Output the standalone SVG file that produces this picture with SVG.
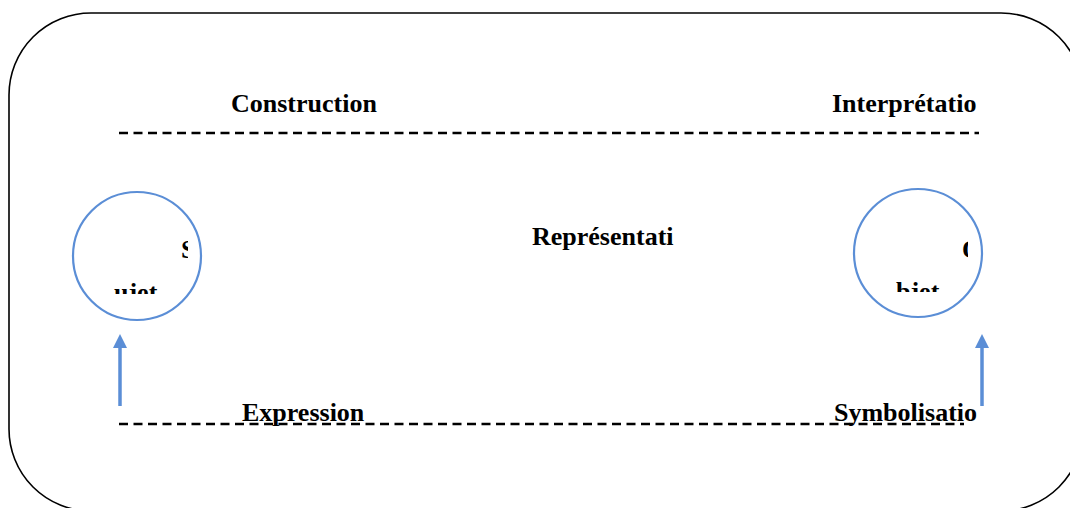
<svg xmlns="http://www.w3.org/2000/svg" width="1070" height="508" viewBox="0 0 1070 508">
<style>
.lbl{font-family:"Liberation Serif","Times New Roman",serif;font-weight:bold;font-size:26px;fill:#000}
.dash{stroke:#000;stroke-width:2.4;stroke-dasharray:9 5.5;fill:none}
.circ{fill:#fff;stroke:#5B8ED6;stroke-width:2.2}
.arr{stroke:#5B8ED6;stroke-width:3.5;fill:none}
</style>
<defs>
<clipPath id="cS"><rect x="100" y="225" width="88" height="40"/></clipPath>
<clipPath id="cU"><rect x="100" y="270" width="80" height="24"/></clipPath>
<clipPath id="cO"><rect x="880" y="225" width="88" height="40"/></clipPath>
<clipPath id="cB"><rect x="880" y="270" width="80" height="22"/></clipPath>
</defs>
<rect id="frame" x="9" y="13" width="1074" height="498" rx="82" ry="82" fill="none" stroke="#000" stroke-width="1.6"/>
<g id="connectors">
<line class="dash" x1="119" y1="133" x2="979" y2="133"/>
<line class="dash" x1="119" y1="424" x2="964" y2="424"/>
<line class="arr" x1="120" y1="406" x2="120" y2="346"/>
<polygon points="120,334 113,348 127,348" fill="#5B8ED6"/>
<line class="arr" x1="982" y1="406" x2="982" y2="346"/>
<polygon points="982,334 975,348 989,348" fill="#5B8ED6"/>
</g>
<g id="construction"><text class="lbl" x="231" y="112">Construction</text></g>
<g id="interpretation"><text class="lbl" x="832" y="112">Interprétatio</text></g>
<g id="representation"><text class="lbl" x="532" y="245">Représentati</text></g>
<g id="expression"><text class="lbl" x="242" y="421">Expression</text></g>
<g id="symbolisation"><text class="lbl" x="834" y="421">Symbolisatio</text></g>
<g id="sujet">
<circle class="circ" cx="137" cy="256" r="64"/>
<text class="lbl" x="181" y="258" clip-path="url(#cS)">S</text>
<text class="lbl" x="114" y="301" clip-path="url(#cU)">ujet</text>
</g>
<g id="objet">
<circle class="circ" cx="918" cy="253" r="64"/>
<text class="lbl" x="962" y="258" clip-path="url(#cO)">O</text>
<text class="lbl" x="896" y="300" clip-path="url(#cB)">bjet</text>
</g>
</svg>
